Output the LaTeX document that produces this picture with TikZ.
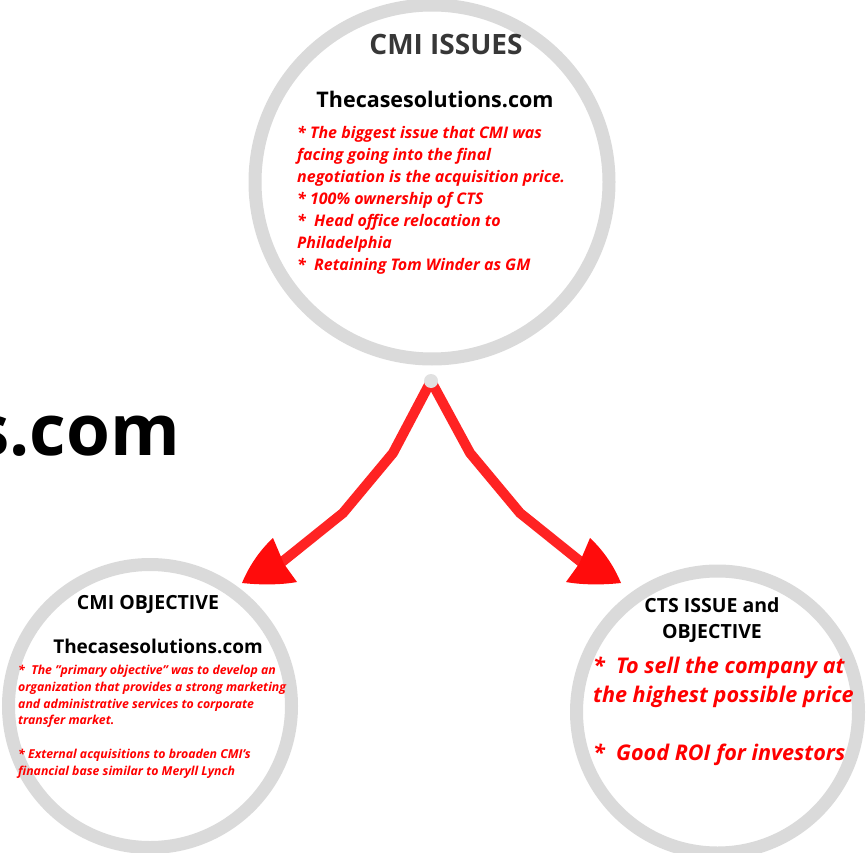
\documentclass[tikz,border=0pt]{standalone}
\usepackage{fontspec}
\setmainfont{Open Sans}
\usetikzlibrary{arrows.meta}
\definecolor{ringgray}{RGB}{218,218,218}
\definecolor{arrowred}{RGB}{255,35,35}
\definecolor{headred}{RGB}{255,12,12}
\definecolor{titlegray}{RGB}{55,55,55}
\begin{document}
\begin{tikzpicture}[x=1pt,y=-1pt,
  ring/.style={draw=ringgray,line width=13pt,fill=white},
  link/.style={draw=arrowred,line width=10pt,line join=round},
  head/.style={fill=headred},
  ttl/.style={font=\bfseries\fontsize{19.5}{26}\selectfont,text=black,align=center,inner sep=0pt},
  site/.style={font=\bfseries\fontsize{19}{24}\selectfont,text=black,inner sep=0pt},
  redtxt/.style={text=red,align=left,inner sep=0pt}
]
\useasboundingbox (0,0) rectangle (867,853);
\clip (0,0) rectangle (867,853);
\node[anchor=base east,inner sep=0pt,font=\bfseries\fontsize{71}{80}\selectfont] (big) at (180,455) {s.com};
% circles
\draw[ring] (432,182) circle (177);
\draw[ring] (150,706) circle (141.5);
\draw[ring] (717.5,712) circle (141);
% arrows
\coordinate (src) at (431,381);
\coordinate (l1) at (393,453);
\coordinate (l2) at (343,513);
\coordinate (lnotch) at (282,562);
\coordinate (r1) at (470,453);
\coordinate (r2) at (520,513);
\coordinate (rnotch) at (581,562);
\draw[link] (src) -- (l1) -- (l2) -- (lnotch);
\draw[link] (src) -- (r1) -- (r2) -- (rnotch);
% arrow heads
\coordinate (ltip) at (242,583);
\coordinate (lw1) at (273,538);
\coordinate (lw2) at (297,582);
\fill[head] (ltip) .. controls (249,566) and (260,550) .. (lw1)
  -- (284,564) -- (lw2) .. controls (281,585) and (260,585) .. cycle;
\coordinate (rtip) at (621,583);
\coordinate (rw1) at (590,538);
\coordinate (rw2) at (566,582);
\fill[head] (rtip) .. controls (614,566) and (603,550) .. (rw1)
  -- (579,564) -- (rw2) .. controls (582,585) and (603,585) .. cycle;
\node[circle,fill=ringgray!80,inner sep=0pt,minimum size=14pt] (dot) at (src) {};
% top circle texts
\node[anchor=base,inner sep=0pt,text=titlegray,font=\bfseries\fontsize{28}{36}\selectfont] (t1) at (446,55) {CMI ISSUES};
\node[site,anchor=base,font=\bfseries\fontsize{21.5}{24}\selectfont] (t2) at (435,108) {Thecasesolutions.com};
\node[redtxt,anchor=base west,font=\bfseries\itshape\fontsize{16}{22}\selectfont] (t3) at (297,270) {%
* The biggest issue that CMI was\\
facing going into the final\\
negotiation is the acquisition price.\\
* 100\% ownership of CTS\\
*\ \ Head office relocation to\\
Philadelphia\\
*\ \ Retaining Tom Winder as GM};
% bottom-left texts
\node[ttl,anchor=base] (b1) at (148,609) {CMI OBJECTIVE};
\node[site,anchor=base] (b2) at (158,653) {Thecasesolutions.com};
\node[redtxt,anchor=base west,font=\bfseries\itshape\fontsize{12.3}{16.7}\selectfont] (b3) at (18,775) {%
*\ \ The "primary objective" was to develop an\\
organization that provides a strong marketing\\
and administrative services to corporate\\
transfer market.\\[16.7pt]
* External acquisitions to broaden CMI's\\
financial base similar to Meryll Lynch};
% bottom-right texts
\node[ttl,anchor=base] (c1) at (712,638) {CTS ISSUE and\\OBJECTIVE};
\node[redtxt,anchor=base west,font=\bfseries\itshape\fontsize{21.6}{29}\selectfont] (c2) at (593,760) {%
*\ \ To sell the company at\\
the highest possible price\\[29pt]
*\ \ Good ROI for investors};
\end{tikzpicture}
\end{document}
